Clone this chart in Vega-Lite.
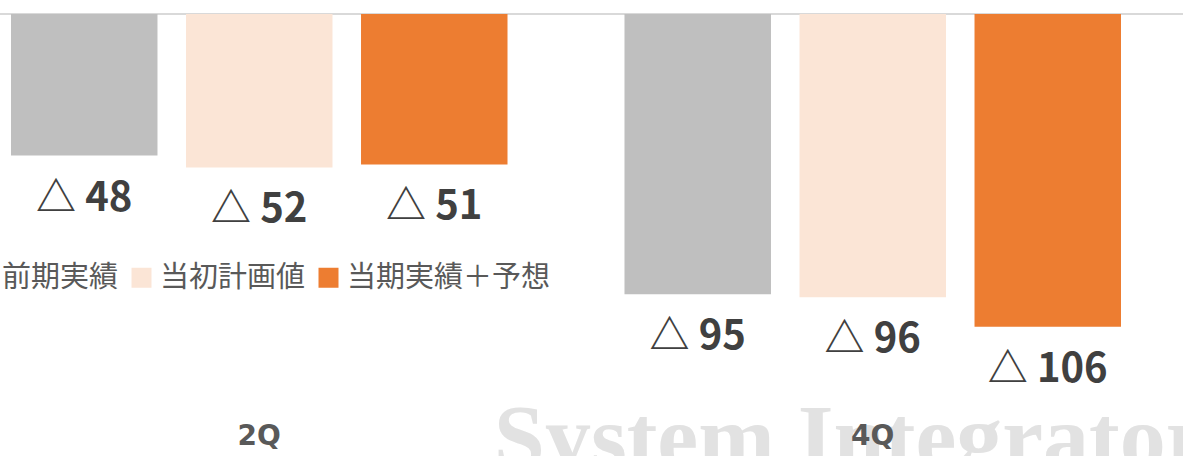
{
  "$schema": "https://vega.github.io/schema/vega-lite/v6.json",
  "width": 1183,
  "height": 400,
  "autosize": {"type": "none"},
  "padding": {"top": 14, "left": 0, "right": 0, "bottom": 42},
  "background": "#ffffff",
  "config": {"view": {"stroke": null}},
  "data": {
    "values": [
      {"q": "2Q", "series": "前期実績", "value": -48, "label": "△ 48"},
      {"q": "2Q", "series": "当初計画値", "value": -52, "label": "△ 52"},
      {"q": "2Q", "series": "当期実績＋予想", "value": -51, "label": "△ 51"},
      {"q": "4Q", "series": "前期実績", "value": -95, "label": "△ 95"},
      {"q": "4Q", "series": "当初計画値", "value": -96, "label": "△ 96"},
      {"q": "4Q", "series": "当期実績＋予想", "value": -106, "label": "△ 106"}
    ]
  },
  "layer": [
    {
      "data": {"values": [{"q": "4Q", "wm": "System Integrator", "value": -135.59}]},
      "mark": {"type": "text", "font": "Liberation Serif", "fontWeight": "bold", "fontSize": 92, "color": "#e2e2e2", "align": "left", "baseline": "alphabetic", "dx": -379, "dy": 54},
      "encoding": {
        "x": {
          "field": "q",
          "type": "nominal",
          "scale": {"domain": ["2Q", "4Q"], "paddingInner": 0.1907, "paddingOuter": 0.0595, "align": 0.1507},
          "axis": {"title": null, "domain": false, "ticks": false, "labelAngle": 0, "labelFontSize": 28, "labelFontWeight": "bold", "labelColor": "#595959", "labelPadding": 8, "labelFont": "DejaVu Sans", "zindex": 1}
        },
        "y": {"field": "value", "type": "quantitative", "scale": {"domain": [-135.59, 0], "nice": false, "zero": false}, "axis": null},
        "text": {"field": "wm", "type": "nominal"}
      }
    },
    {
      "mark": {"type": "rule", "color": "#d9d9d9", "strokeWidth": 2},
      "encoding": {"y": {"datum": 0, "type": "quantitative"}}
    },
    {
      "mark": {"type": "bar"},
      "encoding": {
        "x": {"field": "q", "type": "nominal"},
        "y": {"field": "value", "type": "quantitative"},
        "xOffset": {"field": "series", "type": "nominal", "scale": {"domain": ["前期実績", "当初計画値", "当期実績＋予想"], "paddingInner": 0.163, "paddingOuter": 0}},
        "color": {
          "field": "series",
          "type": "nominal",
          "scale": {"domain": ["前期実績", "当初計画値", "当期実績＋予想"], "range": ["#bfbfbf", "#fbe5d6", "#ed7d31"]},
          "legend": {"orient": "none", "legendX": -31, "legendY": 249, "direction": "horizontal", "title": null, "symbolType": "square", "symbolSize": 400, "symbolStrokeWidth": 0, "labelFontSize": 29, "labelFont": "Noto Sans CJK JP", "labelColor": "#595959", "labelOffset": 4, "columnPadding": 8, "labelLimit": 400}
        }
      }
    },
    {
      "mark": {"type": "text", "font": "Noto Sans CJK JP", "fontWeight": "bold", "fontSize": 40, "color": "#404040", "baseline": "middle", "dy": 43},
      "encoding": {
        "x": {"field": "q", "type": "nominal"},
        "y": {"field": "value", "type": "quantitative"},
        "xOffset": {"field": "series", "type": "nominal", "scale": {"domain": ["前期実績", "当初計画値", "当期実績＋予想"], "paddingInner": 0.163, "paddingOuter": 0}},
        "text": {"field": "label", "type": "nominal"}
      }
    }
  ]
}
